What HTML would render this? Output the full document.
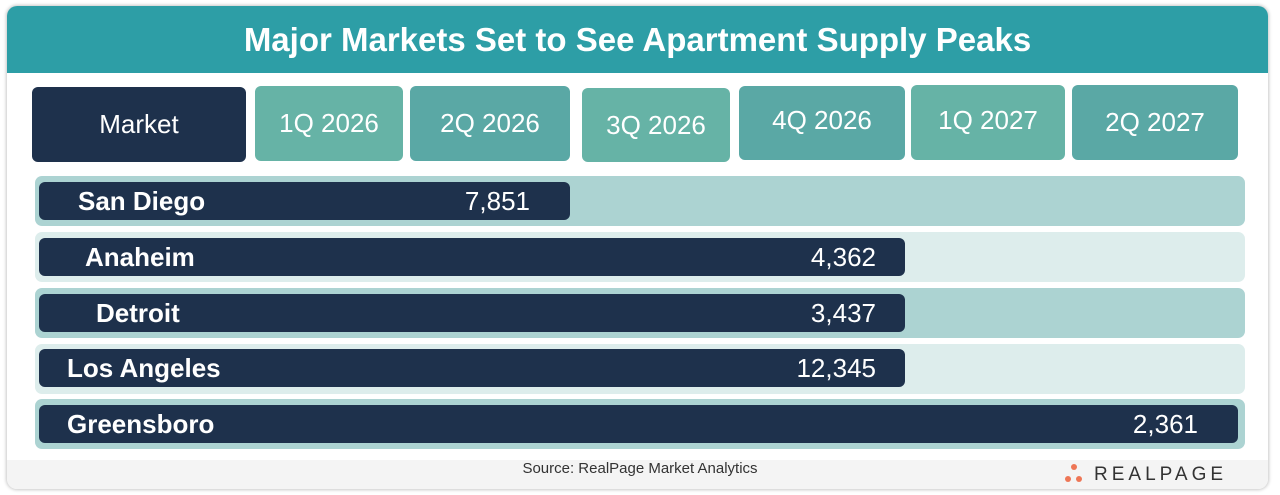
<!DOCTYPE html>
<html><head><meta charset="utf-8"><style>
body{margin:0;width:1280px;height:495px;background:#fff;position:relative;overflow:hidden;font-family:"Liberation Sans",sans-serif}
.a{position:absolute;box-sizing:border-box}
.card{left:7px;top:6px;width:1261px;height:483px;border-radius:10px;background:#fff;box-shadow:0 0 3px 1px #c8c8c8;overflow:hidden}
.h{display:flex;align-items:center;justify-content:center;color:#fff;font-size:26px;border-radius:6px}
.l{background:#66b3a6}.d{background:#5aa8a5}
.row{left:35px;width:1210px;height:50px;border-radius:7px}
.bar{left:39px;height:38px;background:#1e314c;border-radius:6px;color:#fff;font-weight:bold;font-size:26px}
.bar span{position:absolute;top:4px}
.v{font-weight:normal}
</style></head><body>
<div class="a card">
 <div class="a" style="left:0;top:0;width:1261px;height:67px;background:#2d9ea6;color:#fff;font-size:33px;font-weight:bold;display:flex;align-items:center;justify-content:center">Major Markets Set to See Apartment Supply Peaks</div>
 <div class="a" style="left:0;top:454px;width:1261px;height:29px;background:#f4f4f4"></div>
</div>
<div class="a h" style="left:32px;top:87px;width:214px;height:75px;background:#1e314c">Market</div>
<div class="a h l" style="left:255px;top:86px;width:148px;height:75px">1Q 2026</div>
<div class="a h d" style="left:410px;top:86px;width:160px;height:75px">2Q 2026</div>
<div class="a h l" style="left:582px;top:88px;width:148px;height:74px">3Q 2026</div>
<div class="a h d" style="left:739px;top:86px;width:166px;height:74px;padding-bottom:6px">4Q 2026</div>
<div class="a h l" style="left:911px;top:85px;width:154px;height:75px;padding-bottom:4px">1Q 2027</div>
<div class="a h d" style="left:1072px;top:85px;width:166px;height:75px">2Q 2027</div>

<div class="a row" style="top:176px;background:#acd3d2"></div>
<div class="a bar" style="top:182px;width:531px"><span style="left:39px">San Diego</span><span class="v" style="right:40px">7,851</span></div>
<div class="a row" style="top:232px;background:#ddedec"></div>
<div class="a bar" style="top:238px;width:866px"><span style="left:46px">Anaheim</span><span class="v" style="right:29px">4,362</span></div>
<div class="a row" style="top:288px;background:#acd3d2"></div>
<div class="a bar" style="top:294px;width:866px"><span style="left:57px">Detroit</span><span class="v" style="right:29px">3,437</span></div>
<div class="a row" style="top:344px;background:#ddedec"></div>
<div class="a bar" style="top:349px;width:866px"><span style="left:28px">Los Angeles</span><span class="v" style="right:29px">12,345</span></div>
<div class="a row" style="top:399px;background:#acd3d2"></div>
<div class="a bar" style="top:405px;width:1199px"><span style="left:28px">Greensboro</span><span class="v" style="right:40px">2,361</span></div>

<div class="a" style="left:0;width:1280px;top:460px;text-align:center;font-size:15px;color:#333">Source: RealPage Market Analytics</div>
<div class="a" style="left:1071px;top:464px;width:6px;height:6px;border-radius:50%;background:#ee7656"></div>
<div class="a" style="left:1065px;top:476px;width:6px;height:6px;border-radius:50%;background:#ee7656"></div>
<div class="a" style="left:1076px;top:476px;width:6px;height:6px;border-radius:50%;background:#ee7656"></div>
<div class="a" style="left:1094px;top:464px;font-size:19px;letter-spacing:4px;color:#333">REALPAGE</div>
</body></html>
